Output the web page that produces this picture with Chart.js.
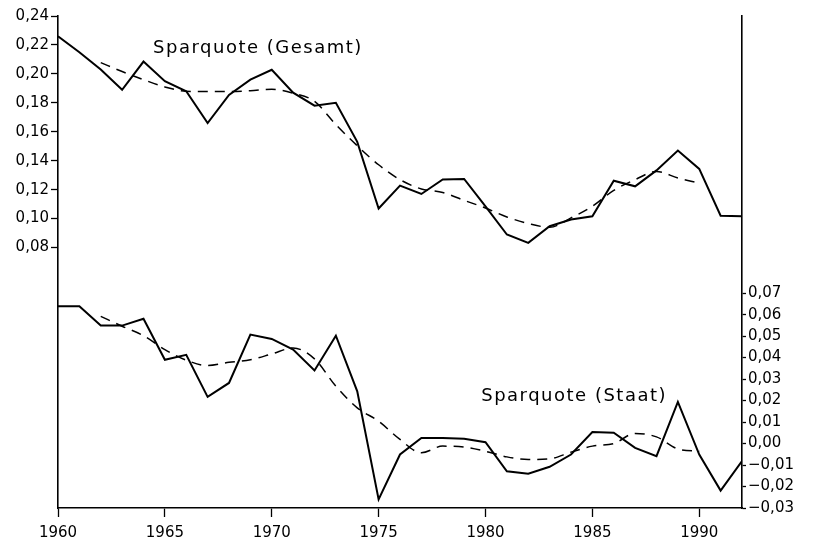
<!DOCTYPE html>
<html>
<head>
<meta charset="utf-8">
<script src="https://cdn.jsdelivr.net/npm/chart.js@4/dist/chart.umd.min.js"></script>
<style>
    html, body { margin: 0; padding: 0; background: #fff; }
    #wrap { width: 813px; height: 545px; }
</style>
</head>
<body>
<div id="wrap"><canvas id="sparChart" width="813" height="545"></canvas></div>
<script>
// years 1960 - 1992
var years = [1960, 1961, 1962, 1963, 1964, 1965, 1966, 1967, 1968, 1969, 1970,
             1971, 1972, 1973, 1974, 1975, 1976, 1977, 1978, 1979, 1980,
             1981, 1982, 1983, 1984, 1985, 1986, 1987, 1988, 1989, 1990, 1991, 1992];

var gesamt = [0.226, 0.215, 0.203, 0.189, 0.2085, 0.195, 0.188, 0.166, 0.1855, 0.196, 0.2028,
              0.187, 0.178, 0.180, 0.153, 0.107, 0.1228, 0.117, 0.127, 0.1274, 0.1085,
              0.089, 0.0832, 0.0947, 0.0993, 0.1016, 0.1262, 0.1223, 0.1333, 0.147, 0.1343, 0.102, 0.1016];

var staat = [0.0639, 0.0639, 0.0549, 0.0549, 0.0581, 0.039, 0.0413, 0.0217, 0.0282, 0.0507, 0.0487,
             0.0437, 0.034, 0.0502, 0.0243, -0.026, -0.0051, 0.0026, 0.0026, 0.0022, 0.0006,
             -0.0129, -0.014, -0.0108, -0.0051, 0.0054, 0.005, -0.002, -0.0059, 0.0194, -0.0051, -0.0219, -0.0082];

// smoothed trends, 1962 - 1990
var trendYears = years.slice(2, 31);

var gesamtTrend = [0.2078, 0.2016, 0.196, 0.191, 0.188, 0.1878, 0.1878, 0.1884, 0.1894,
                   0.1867, 0.181, 0.165, 0.1503, 0.1372, 0.1269, 0.1205, 0.118, 0.1126, 0.1073,
                   0.1011, 0.0966, 0.094, 0.1005, 0.1085, 0.1195, 0.1269, 0.1326, 0.128, 0.1246];

var staatTrend = [0.0592, 0.0546, 0.0502, 0.0437, 0.0388, 0.0363, 0.0378, 0.039, 0.0417,
                  0.0445, 0.0394, 0.0267, 0.0166, 0.0104, 0.0019, -0.0043, -0.0012, -0.0016, -0.0036,
                  -0.0062, -0.0074, -0.0071, -0.004, -0.0012, 0, 0.0047, 0.0031, -0.0025, -0.0036];

var xTicks = [1960, 1965, 1970, 1975, 1980, 1985, 1990];
var leftTicks = [0.08, 0.10, 0.12, 0.14, 0.16, 0.18, 0.20, 0.22, 0.24];
var rightTicks = [-0.03, -0.02, -0.01, 0.00, 0.01, 0.02, 0.03, 0.04, 0.05, 0.06, 0.07];

var seriesLabels = ['Sparquote (Gesamt)', 'Sparquote (Staat)'];

function toPoints(xs, ys) {
    return ys.map(function (v, i) { return { x: xs[i], y: v }; });
}

function fmt(v) {
    var s = Math.abs(v).toFixed(2).replace('.', ',');
    return (Math.round(v * 100) < 0 ? '\u2212' : '') + s;
}

var fontFamily = "'DejaVu Sans', 'Liberation Sans', sans-serif";
var tickFont = { family: fontFamily, size: 15 };

// writes the two series names next to their curves
var seriesTextPlugin = {
    id: 'seriesText',
    afterDatasetsDraw: function (chart) {
        var ctx = chart.ctx;
        var x = chart.scales.x;
        ctx.save();
        ctx.fillStyle = '#000';
        ctx.font = '18px ' + fontFamily;
        ctx.letterSpacing = '1.5px';
        ctx.textBaseline = 'middle';
        ctx.fillText(seriesLabels[0], x.getPixelForValue(1964.45), chart.scales.yL.getPixelForValue(0.2175));
        ctx.fillText(seriesLabels[1], x.getPixelForValue(1979.8), chart.scales.yR.getPixelForValue(0.0218));
        ctx.restore();
    }
};

function axisBase(tickLen) {
    return {
        grid: { display: true, drawOnChartArea: false, color: '#000', tickLength: tickLen, tickWidth: 1.3 },
        border: { display: true, color: '#000', width: 1.6 }
    };
}

new Chart(document.getElementById('sparChart'), {
    type: 'line',
    data: {
        datasets: [{
            label: seriesLabels[0],
            data: toPoints(years, gesamt),
            yAxisID: 'yL',
            borderColor: '#000',
            borderWidth: 2,
            tension: 0,
            pointRadius: 0
        }, {
            label: seriesLabels[0] + ' Trend',
            data: toPoints(trendYears, gesamtTrend),
            yAxisID: 'yL',
            borderColor: '#000',
            borderWidth: 1.5,
            borderDash: [10, 7],
            cubicInterpolationMode: 'monotone',
            pointRadius: 0
        }, {
            label: seriesLabels[1],
            data: toPoints(years, staat),
            yAxisID: 'yR',
            borderColor: '#000',
            borderWidth: 2,
            tension: 0,
            pointRadius: 0
        }, {
            label: seriesLabels[1] + ' Trend',
            data: toPoints(trendYears, staatTrend),
            yAxisID: 'yR',
            borderColor: '#000',
            borderWidth: 1.5,
            borderDash: [10, 7],
            cubicInterpolationMode: 'monotone',
            pointRadius: 0
        }]
    },
    options: {
        responsive: false,
        animation: false,
        layout: { padding: { top: 16, left: 0, right: 0, bottom: 0 } },
        plugins: {
            legend: { display: false },
            tooltip: { enabled: false }
        },
        scales: {
            x: Object.assign(axisBase(9), {
                type: 'linear',
                min: 1960,
                max: 1992,
                afterBuildTicks: function (axis) {
                    axis.ticks = xTicks.map(function (v) { return { value: v }; });
                },
                afterFit: function (axis) { axis.height = 37; },
                ticks: {
                    color: '#000',
                    font: tickFont,
                    padding: 7,
                    maxRotation: 0,
                    callback: function (v) { return String(v); }
                }
            }),
            yL: Object.assign(axisBase(7), {
                type: 'linear',
                position: 'left',
                min: -0.10,
                max: 0.24,
                afterBuildTicks: function (axis) {
                    axis.ticks = leftTicks.map(function (v) { return { value: v }; });
                },
                afterFit: function (axis) { axis.width = 58; },
                ticks: {
                    color: '#000',
                    font: tickFont,
                    padding: 2,
                    callback: function (v) { return fmt(v); }
                }
            }),
            yR: Object.assign(axisBase(4), {
                type: 'linear',
                position: 'right',
                min: -0.03,
                max: 0.199,
                afterBuildTicks: function (axis) {
                    axis.ticks = rightTicks.map(function (v) { return { value: v }; });
                },
                afterFit: function (axis) { axis.width = 71; },
                ticks: {
                    color: '#000',
                    font: tickFont,
                    padding: 2,
                    callback: function (v) { return fmt(v); }
                }
            })
        }
    },
    plugins: [seriesTextPlugin]
});
</script>
</body>
</html>
